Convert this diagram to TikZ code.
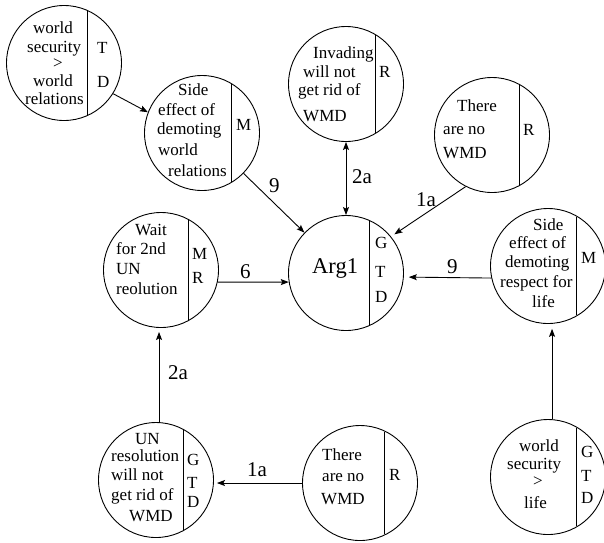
\documentclass[tikz,border=0pt]{standalone}
\usepackage{fontspec}
\setmainfont{Liberation Serif}
\usetikzlibrary{calc,arrows.meta}
\newcommand\TL[4]{\node[txt] (#1) at (#2,#3) {#4};}
\newcommand\LB[4]{\node[lbl] (#1) at (#2,#3) {#4};}
\newcommand\CH[2]{\draw[chordline] ($(#1.center)+(#2,{-sqrt(3306.25-(#2)^2)+1})$) -- ($(#1.center)+(#2,{sqrt(3306.25-(#2)^2)-1})$);}
\begin{document}
\begin{tikzpicture}[x=1pt,y=-1pt,
  circ/.style={circle,draw,line width=0.9pt,minimum size=115pt,inner sep=0pt},
  txt/.style={anchor=base west,inner sep=0pt,font=\rmfamily\fontsize{17}{20}\selectfont},
  lbl/.style={anchor=base west,inner sep=0pt,font=\rmfamily\fontsize{21}{24}\selectfont},
  big/.style={anchor=base west,inner sep=0pt,font=\rmfamily\fontsize{22.5}{26}\selectfont},
  chordline/.style={line width=0.9pt},
  tip/.tip={Stealth[length=8pt,width=6pt,inset=1.5pt]},
  arr/.style={line width=0.9pt,-tip},
  arrboth/.style={line width=0.9pt,tip-tip},
]
\useasboundingbox (0,0) rectangle (604,542);
% circles
\node[circ] (c1) at (64,63) {};
\node[circ] (c2) at (202,133) {};
\node[circ] (c3) at (346,84) {};
\node[circ] (c4) at (492,135) {};
\node[circ] (arg) at (346,273) {};
\node[circ] (c5) at (161,270) {};
\node[circ] (c6) at (548,266) {};
\node[circ] (c7) at (156,480) {};
\node[circ] (c8) at (360,483) {};
\node[circ] (c9) at (548,477) {};
% chords
\CH{c1}{23}
\CH{c2}{29}
\CH{c3}{29}
\CH{c4}{27}
\CH{arg}{23}
\CH{c5}{27}
\CH{c6}{28}
\CH{c7}{27}
\CH{c8}{24}
\CH{c9}{28}
% texts c1
\TL{c1a}{33}{33}{world}
\TL{c1b}{27}{52}{security}
\TL{c1c}{53}{68}{>}
\TL{c1d}{33}{86}{world}
\TL{c1e}{25}{104}{relations}
\TL{c1f}{97}{53}{T}
\TL{c1g}{97}{87}{D}
% c2
\TL{c2a}{178}{95}{Side}
\TL{c2b}{158}{115}{effect of}
\TL{c2c}{157}{134}{demoting}
\TL{c2d}{158}{155}{world}
\TL{c2e}{168}{176}{relations}
\TL{c2f}{236}{130}{M}
% c3
\TL{c3a}{313}{58}{Invading}
\TL{c3b}{303}{77}{will not}
\TL{c3c}{298}{95}{get rid of}
\TL{c3d}{303}{121}{WMD}
\TL{c3e}{379}{77}{R}
% c4
\TL{c4a}{457}{111}{There}
\TL{c4b}{443}{134}{are no}
\TL{c4c}{443}{158}{WMD}
\TL{c4d}{523}{135}{R}
% arg
\node[big] (arga) at (312,273) {Arg1};
\TL{argb}{375}{248}{G}
\TL{argc}{375}{277}{T}
\TL{argd}{375}{302}{D}
% c5
\TL{c5a}{135}{235}{Wait}
\TL{c5b}{116}{254}{for 2nd}
\TL{c5c}{116}{274}{UN}
\TL{c5d}{116}{294}{reolution}
\TL{c5e}{192}{259}{M}
\TL{c5f}{192}{283}{R}
% c6
\TL{c6a}{533}{230}{Side}
\TL{c6b}{509}{248}{effect of}
\TL{c6c}{505}{267}{demoting}
\TL{c6d}{500}{287}{respect for}
\TL{c6e}{532}{307}{life}
\TL{c6f}{581}{263}{M}
% c7
\TL{c7a}{135}{444}{UN}
\TL{c7b}{111}{461}{resolution}
\TL{c7c}{111}{480}{will not}
\TL{c7d}{111}{500}{get rid of}
\TL{c7e}{129}{521}{WMD}
\TL{c7f}{187}{465}{G}
\TL{c7g}{187}{488}{T}
\TL{c7h}{187}{507}{D}
% c8
\TL{c8a}{322}{460}{There}
\TL{c8b}{322}{481}{are no}
\TL{c8c}{321}{504}{WMD}
\TL{c8d}{389}{480}{R}
% c9
\TL{c9a}{519}{451}{world}
\TL{c9b}{507}{469}{security}
\TL{c9c}{533}{486}{>}
\TL{c9d}{524}{508}{life}
\TL{c9e}{581}{457}{G}
\TL{c9f}{581}{481}{T}
\TL{c9g}{581}{503}{D}
% connectors
\draw[arr] (c1.-32) -- (c2.159);
\draw[arr] (c2) -- (arg);
\draw[arrboth] (arg) -- (c3);
\draw[arr,shorten >=4pt] (c4.243) -- (arg.39);
\draw[arr] (c5.-12) -- (arg.189);
\draw[arr,shorten >=5pt] (c6.192) -- (arg.-4);
\draw[arr,shorten >=5pt] (c9.86) -- (c6.-86);
\draw[arr,shorten >=4pt] (c7.87) -- (c7.87 |- c5.south);
\draw[arr,shorten >=3pt] (c8.west) -- (c8.west -| c7.east);
% labels
\LB{l1}{269}{192}{9}
\LB{l2}{352}{183}{2a}
\LB{l3}{416}{206}{1a}
\LB{l4}{240}{278}{6}
\LB{l5}{447}{273}{9}
\LB{l6}{168}{379}{2a}
\LB{l7}{247}{476}{1a}
\end{tikzpicture}
\end{document}
